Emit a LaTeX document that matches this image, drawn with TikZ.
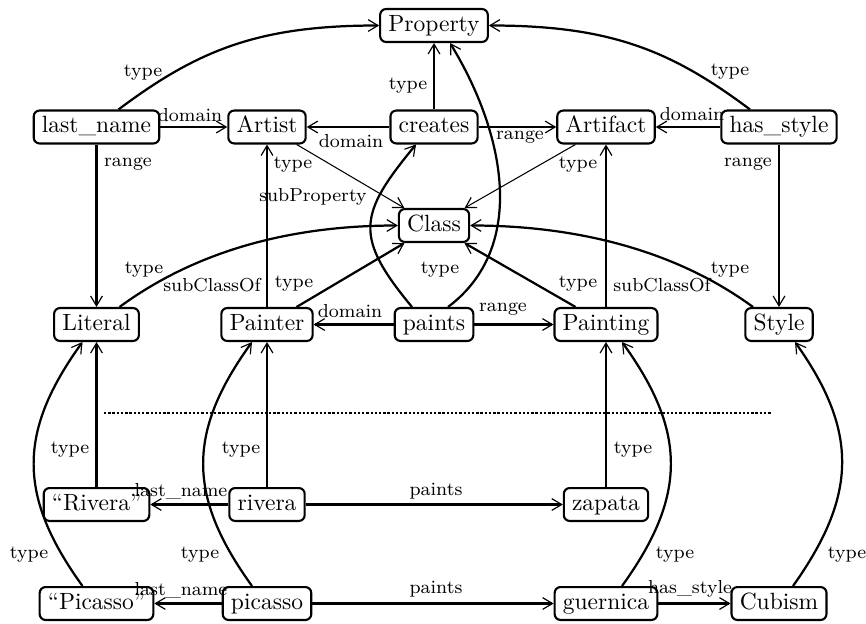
\documentclass[tikz,border=0pt]{standalone}
\usetikzlibrary{calc,arrows.meta}
\begin{document}
\begin{tikzpicture}[x=0.4255pt,y=-0.4255pt,
  box/.style={draw, line width=0.9pt, rounded corners=2.5pt, inner xsep=3.5pt, inner ysep=2.5pt, text height=7pt, text depth=2pt, font=\normalsize},
  arr/.style={-{Straight Barb[length=4.2pt,width=5pt,line width=0.5pt]}, line width=0.95pt},
  thinarr/.style={-{Straight Barb[length=4.2pt,width=5pt,line width=0.5pt]}, line width=0.45pt},
  lab/.style={font=\footnotesize, inner sep=0pt}]
\useasboundingbox (0,0) rectangle (866,623);
% nodes
\node[box] (prop) at (434,25.5) {Property};
\node[box] (ln) at (96.5,127) {last\_name};
\node[box] (artist) at (267,127) {Artist};
\node[box] (creates) at (434,127) {creates};
\node[box] (artifact) at (606,127) {Artifact};
\node[box] (hs) at (779,127) {has\_style};
\node[box] (class) at (434,225.5) {Class};
\node[box] (lit) at (96.5,324.5) {Literal};
\node[box] (painter) at (267,324.5) {Painter};
\node[box] (paints) at (434,324.5) {paints};
\node[box] (painting) at (606,324.5) {Painting};
\node[box] (style) at (779,324.5) {Style};
\node[box] (rivL) at (96.5,504.5) {``Rivera''};
\node[box] (riv) at (267,504.5) {rivera};
\node[box] (zap) at (606,504.5) {zapata};
\node[box] (picL) at (96.5,603.5) {``Picasso''};
\node[box] (pic) at (267,603.5) {picasso};
\node[box] (guer) at (606,603.5) {guernica};
\node[box] (cub) at (779,603.5) {Cubism};
% straight connectors
\draw[arr] (creates) -- (prop);
\draw[arr] (ln) -- (artist);
\draw[arr] (creates) -- (artist);
\draw[arr] (creates) -- (artifact);
\draw[arr] (hs) -- (artifact);
\draw[arr] (ln) -- (lit);
\draw[arr] (hs) -- (style);
\draw[thinarr] (artist) -- (class);
\draw[thinarr] (artifact) -- (class);
\draw[arr] (painter) -- (class);
\draw[arr] (painting) -- (class);
\draw[arr] (painter) -- (artist);
\draw[arr] (painting) -- (artifact);
\draw[arr] (paints) -- (painter);
\draw[arr] (paints) -- (painting);
\draw[arr] (rivL) -- (lit);
\draw[arr] (riv) -- (painter);
\draw[arr] (zap) -- (painting);
\draw[arr] (riv) -- (rivL);
\draw[arr] (riv) -- (zap);
\draw[arr] (pic) -- (picL);
\draw[arr] (pic) -- (guer);
\draw[arr] (guer) -- (cub);
% curved connectors
\draw[arr] ($(ln.north)+(22,0)$) .. controls +(80,-60) and +(-120,0) .. (prop.west);
\draw[arr] ($(hs.north)+(-29,0)$) .. controls +(-80,-60) and +(120,0) .. (prop.east);
\draw[arr] ($(lit.north)+(23,0)$) .. controls +(75,-55) and +(-110,0) .. (class.west);
\draw[arr] ($(style.north)+(-26,0)$) .. controls +(-75,-55) and +(110,0) .. (class.east);
\draw[arr] ($(paints.north)+(-22,0)$) .. controls +(-58,-70) and +(-58,70) .. ($(creates.south)+(-18,0)$);
\draw[arr] ($(paints.north)+(14,0)$) .. controls +(80,-60) and +(55,90) .. ($(prop.south)+(16,0)$);
\draw[arr] ($(picL.north)+(-14,0)$) .. controls +(-65,-90) and +(-65,90) .. ($(lit.south)+(-14,0)$);
\draw[arr] ($(pic.north)+(-15,0)$) .. controls +(-65,-90) and +(-65,90) .. ($(painter.south)+(-15,0)$);
\draw[arr] ($(guer.north)+(16,0)$) .. controls +(65,-90) and +(65,90) .. ($(painting.south)+(16,0)$);
\draw[arr] ($(cub.north)+(14,0)$) .. controls +(64,-90) and +(64,90) .. ($(style.south)+(16,0)$);
% dotted separator
\coordinate (sepL) at (104,413);
\coordinate (sepR) at (772,413);
\draw[line width=1.1pt, dash pattern=on 1pt off 0.8pt] (sepL) -- (sepR);
% labels
\node[lab] (t1) at (143,73) {type};
\node[lab] (t2) at (730,72) {type};
\node[lab] (t3) at (408,86) {type};
\node[lab] (d1) at (190,115) {domain};
\node[lab] (d2) at (351,141) {domain};
\node[lab] (r1) at (520,137) {range};
\node[lab] (d3) at (692,114) {domain};
\node[lab] (r2) at (128,164) {range};
\node[lab] (t4) at (293,165) {type};
\node[lab] (t5) at (578,165) {type};
\node[lab] (r3) at (748,164) {range};
\node[lab] (sp) at (313,197) {subProperty};
\node[lab] (t6) at (144,270) {type};
\node[lab] (sc1) at (212,285) {subClassOf};
\node[lab] (t7) at (294,284) {type};
\node[lab] (t8) at (440,270) {type};
\node[lab] (t9) at (578,284) {type};
\node[lab] (sc2) at (662,285) {subClassOf};
\node[lab] (t10) at (730,270) {type};
\node[lab] (d4) at (350,311) {domain};
\node[lab] (r4) at (503,309) {range};
\node[lab] (t11) at (70,450) {type};
\node[lab] (t12) at (241,450) {type};
\node[lab] (t13) at (633,450) {type};
\node[lab] (ln1) at (181,491) {last\_name};
\node[lab] (p1) at (436,491) {paints};
\node[lab] (ln2) at (181,590) {last\_name};
\node[lab] (p2) at (436,589) {paints};
\node[lab] (hs2) at (690,589) {has\_style};
\node[lab] (t14) at (29,555) {type};
\node[lab] (t15) at (200,555) {type};
\node[lab] (t16) at (675,555) {type};
\node[lab] (t17) at (847,555) {type};
\end{tikzpicture}
\end{document}
